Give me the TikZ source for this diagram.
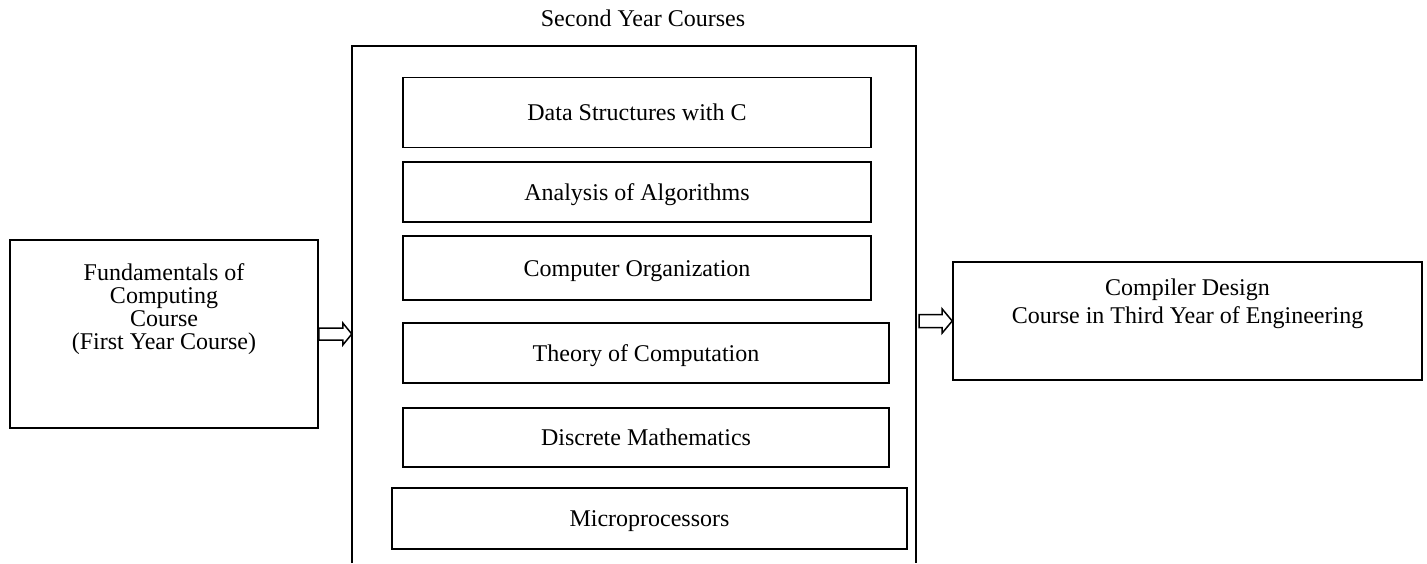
\documentclass[tikz,border=0pt]{standalone}
\usepackage{fontspec}
\setmainfont{Liberation Serif}
\usetikzlibrary{calc}
\tikzset{
  box/.style={draw, line width=1.6pt, rectangle, inner sep=0pt},
  course/.style={box, font=\fontsize{24}{28}\selectfont, text height=16pt, text depth=0pt},
  txt/.style={inner sep=0pt, align=center},
  hollow/.style={draw, line width=1.5pt, fill=white, line join=miter}
}
\begin{document}
\begin{tikzpicture}[x=1pt,y=-1pt]
\useasboundingbox (0,0) rectangle (1427,563);
% title
\node[txt, anchor=base, font=\fontsize{24}{28}\selectfont] (title) at (643,26) {Second Year Courses};
% outer box (open at bottom)
\node[inner sep=0pt, minimum width=564pt, minimum height=517pt] (outer) at (634,304.5) {};
\draw[line width=1.6pt] (outer.south west) -- (outer.north west) -- (outer.north east) -- (outer.south east);
% inner courses
\node[course, minimum width=468pt, minimum height=70pt] (ds) at (637,112.5) {Data Structures with C};
\node[course, minimum width=468pt, minimum height=60pt] (aa) at (637,192) {Analysis of Algorithms};
\node[course, minimum width=468pt, minimum height=64pt] (co) at (637,268) {Computer Organization};
\node[course, minimum width=486pt, minimum height=60pt] (tc) at (646,353) {Theory of Computation};
\node[course, minimum width=486pt, minimum height=59pt] (dm) at (646,437.5) {Discrete Mathematics};
\node[course, minimum width=515pt, minimum height=61pt] (mp) at (649.5,518.5) {Microprocessors};
% left box
\node[box, minimum width=308pt, minimum height=188pt] (fund) at (164,334) {};
\node[txt, anchor=north, font=\fontsize{24}{23}\selectfont] (fundtxt) at ($(fund.north)+(0,24.5)$)
  {Fundamentals of\\Computing\\Course\\(First Year Course)};
% right box
\node[box, minimum width=469pt, minimum height=118pt] (cd) at (1187.5,321) {};
\node[txt, anchor=north, font=\fontsize{24}{28}\selectfont] (cdtxt) at ($(cd.north)+(0,17.5)$)
  {Compiler Design\\Course in Third Year of Engineering};
% hollow arrows
\coordinate (a1s) at (fund.east);
\coordinate (a1e) at (outer.west |- fund.east);
\draw[hollow] ($(a1s)+(0,-6)$) -- ($(a1e)+(-9,-6)$) -- ($(a1e)+(-9,-11)$) -- (a1e)
  -- ($(a1e)+(-9,11)$) -- ($(a1e)+(-9,6)$) -- ($(a1s)+(0,6)$) -- cycle;
\coordinate (a2s) at ($(outer.east |- cd.west)+(3,0)$);
\coordinate (a2e) at (cd.west);
\draw[hollow] ($(a2s)+(0,-6.5)$) -- ($(a2e)+(-10,-6.5)$) -- ($(a2e)+(-10,-12)$) -- (a2e)
  -- ($(a2e)+(-10,12)$) -- ($(a2e)+(-10,6.5)$) -- ($(a2s)+(0,6.5)$) -- cycle;
\end{tikzpicture}
\end{document}
